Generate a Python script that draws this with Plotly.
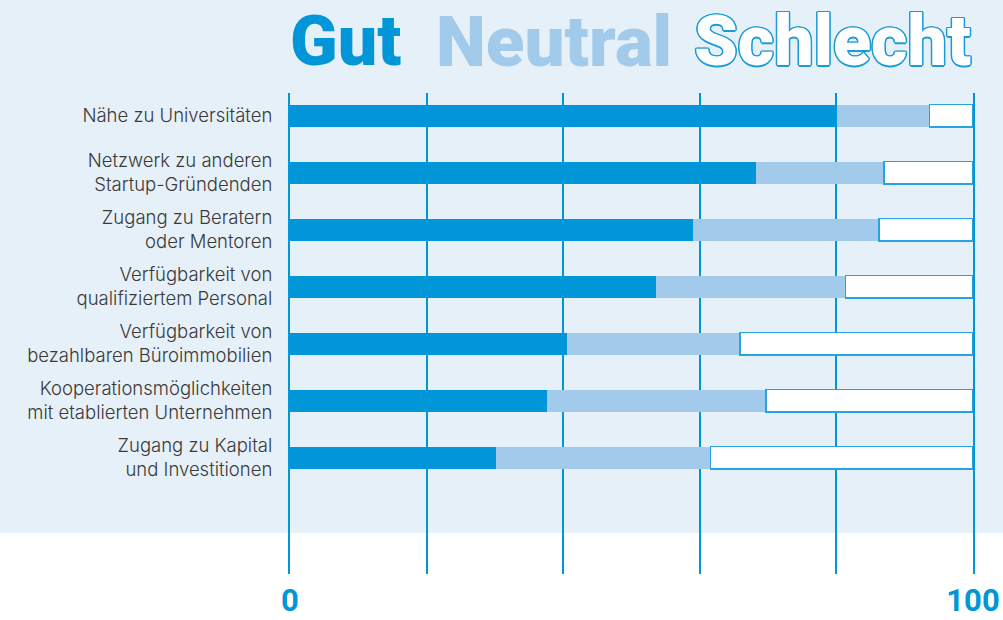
import plotly.graph_objects as go

categories = [
    "Nähe zu Universitäten",
    "Netzwerk zu anderen<br>Startup-Gründenden",
    "Zugang zu Beratern<br>oder Mentoren",
    "Verfügbarkeit von<br>qualifiziertem Personal",
    "Verfügbarkeit von<br>bezahlbaren Büroimmobilien",
    "Kooperationsmöglichkeiten<br>mit etablierten Unternehmen",
    "Zugang zu Kapital<br>und Investitionen",
]
gut = [80.1, 68.2, 59.0, 53.6, 40.6, 37.6, 30.2]
neutral = [13.5, 18.8, 27.2, 27.7, 25.3, 32.1, 31.4]
schlecht = [6.4, 13.0, 13.8, 18.7, 34.1, 30.3, 38.4]
x_ticks = [0, 20, 40, 60, 80, 100]
x_ticktext = ["0", "", "", "", "", "100"]

BLUE = "#0096d8"
LIGHT = "#a1caeb"
BG = "#e6f0f8"

fig = go.Figure()
fig.add_trace(go.Bar(y=categories, x=gut, orientation="h", name="Gut",
                     marker=dict(color=BLUE, line=dict(width=0)), width=0.39))
fig.add_trace(go.Bar(y=categories, x=neutral, orientation="h", name="Neutral",
                     marker=dict(color=LIGHT, line=dict(width=0)), width=0.39))
fig.add_trace(go.Bar(y=categories, x=schlecht, orientation="h", name="Schlecht",
                     marker=dict(color="white", line=dict(color="#29a3df", width=1.5)), width=0.39))

fig.update_layout(
    width=1003, height=620,
    barmode="stack",
    showlegend=False,
    paper_bgcolor=BG,
    plot_bgcolor="rgba(0,0,0,0)",
    margin=dict(l=290, r=30, t=93, b=46),
    xaxis=dict(range=[0, 100], tickvals=x_ticks, ticktext=x_ticktext,
               showgrid=True, gridcolor=BLUE, gridwidth=2, zeroline=False,
               showline=False, ticks="", ticklabelstandoff=5, automargin=False,
               tickfont=dict(family="Roboto", size=31, color=BLUE, weight="bold")),
    yaxis=dict(type="category", categoryorder="array", categoryarray=categories,
               range=[8.04, -0.4], showgrid=False, zeroline=False,
               showline=True, mirror=True, linecolor=BLUE, linewidth=2,
               ticks="", ticklabelstandoff=12, automargin=False,
               tickfont=dict(family="Inter", size=18.5, color="#3a3a3a", weight=300)),
    shapes=[dict(type="rect", xref="paper", yref="paper", x0=-1, x1=2,
                 y0=-0.5, y1=(574 - 533) / 481, fillcolor="white",
                 line=dict(width=0), layer="below")],
)

title_y = (574 - 41) / 481
outline = ", ".join(f"{dx}px {dy}px 0 #1a9bd7" for dx, dy in
                    [(1.5, 0), (-1.5, 0), (0, 1.5), (0, -1.5), (1, 1), (-1, -1), (1, -1), (-1, 1)])
fig.add_annotation(text="Gut", xref="paper", yref="paper", x=(288 - 290) / 683, y=title_y,
                   xanchor="left", yanchor="middle", showarrow=False,
                   font=dict(family="Roboto", size=70, color=BLUE, weight=900))
fig.add_annotation(text="Neutral", xref="paper", yref="paper", x=(434 - 290) / 683, y=title_y,
                   xanchor="left", yanchor="middle", showarrow=False,
                   font=dict(family="Roboto", size=71, color=LIGHT, weight=900))
fig.add_annotation(text="Schlecht", xref="paper", yref="paper", x=1.0, y=title_y,
                   xanchor="right", yanchor="middle", showarrow=False,
                   font=dict(family="Roboto", size=70, color="white", weight=900,
                             shadow=outline))

fig.write_html("out.html", config={"displayModeBar": False},
               post_script="document.body.style.margin='0';")
